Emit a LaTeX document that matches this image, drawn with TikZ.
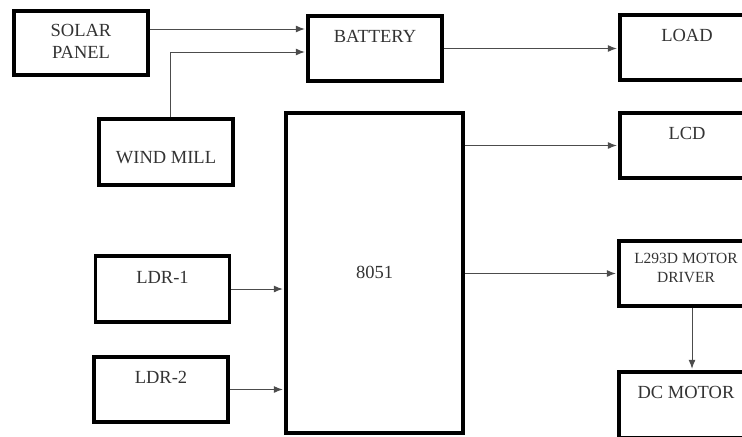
\documentclass[tikz,border=0pt]{standalone}
\usepackage{fontspec}
\setmainfont{Liberation Serif}
\usetikzlibrary{arrows.meta}

\tikzset{
  blk/.style={draw, line width=1.6pt, minimum width=67pt, minimum height=32.5pt,
    inner sep=0pt, text height=13pt, text depth=19.5pt,
    font=\fontsize{9.25}{11}\selectfont, text=black!80},
  arr/.style={line width=0.5pt, draw=black!70, shorten >=0.8pt,
    -{Latex[length=4.5pt,width=3.5pt]}}
}

\begin{document}
\begin{tikzpicture}[x=0.5pt,y=-0.5pt]
            \useasboundingbox (0,0) rectangle (742,436);
            \clip (0,0) rectangle (742,436);

            \node[blk, minimum height=32pt, text height=12.5pt] (solar) at (81,43)
                {\begin{tabular}[t]{@{}c@{}}SOLAR\\PANEL\end{tabular}};
            \node[blk] (battery) at (375,48.5) {BATTERY};
            \node[blk, minimum height=33pt, text height=22pt, text depth=11pt] (wind) at (166,152) {WIND MILL};
            \node[blk, minimum width=88.5pt, minimum height=160pt, text height=82.5pt, text depth=77.5pt] (mcu) at (374.5,273) {8051};
            \node[blk, minimum height=33pt, text height=13.5pt] (ldr1) at (162.5,289) {LDR-1};
            \node[blk] (ldr2) at (161,389.5) {LDR-2};

            \node[blk] (load) at (687,47.5) {LOAD};
            \node[blk] (lcd) at (687,145.5) {LCD};
            \node[blk, text height=11pt, text depth=21.5pt, font=\fontsize{7.75}{9.5}\selectfont] (drv) at (686,273.5)
                {\begin{tabular}[t]{@{}c@{}}L293D MOTOR\\DRIVER\end{tabular}};
            \node[blk, minimum height=33pt, text depth=20pt] (dc) at (686,405) {DC MOTOR};

            \draw[arr] ([yshift=7pt]solar.east) -- ([yshift=7pt]solar.east -| battery.west);
            \draw[arr] ([xshift=2pt]wind.north) |- ([yshift=-1.75pt]battery.west);
            \draw[arr] (battery.east) -- (battery.east -| load.west);
            \draw[arr] (lcd.west -| mcu.east) -- (lcd.west);
            \draw[arr] (drv.west -| mcu.east) -- (drv.west);
            \draw[arr] (ldr1.east) -- (ldr1.east -| mcu.west);
            \draw[arr] (ldr2.east) -- (ldr2.east -| mcu.west);
            \draw[arr] ([xshift=3pt]drv.south) -- ([xshift=3pt]dc.north);
        \end{tikzpicture}
\end{document}
